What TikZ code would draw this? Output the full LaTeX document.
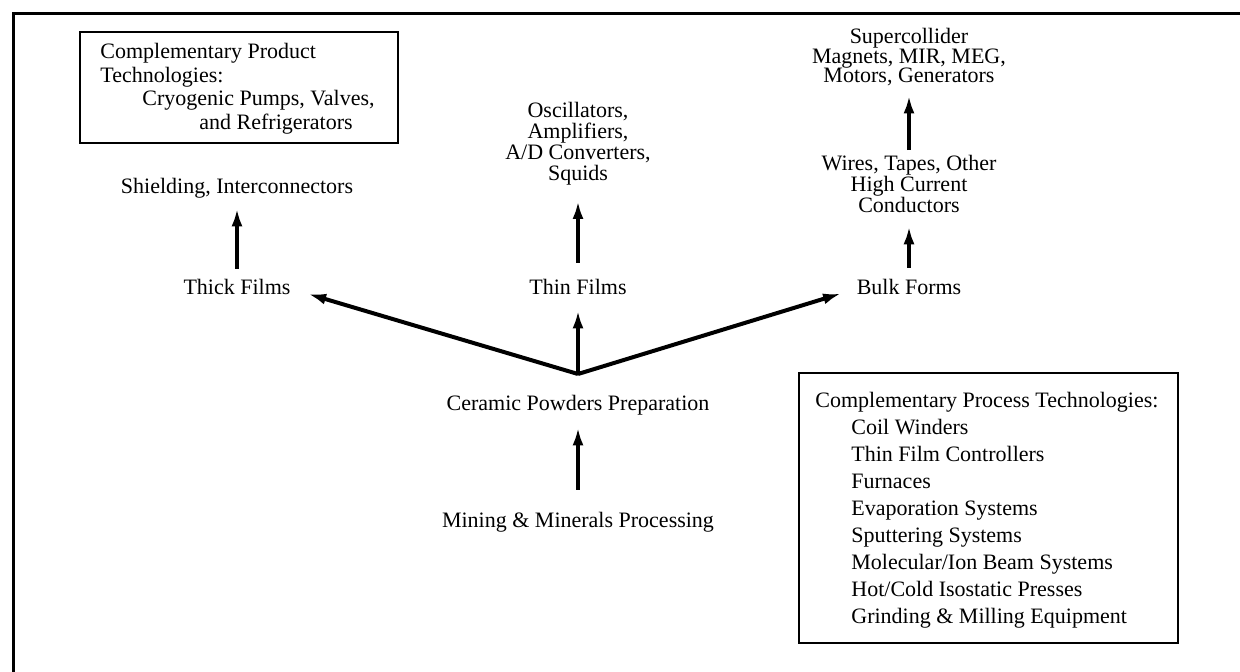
\documentclass[tikz,border=0pt]{standalone}
\usepackage{fontspec}
\setmainfont{Liberation Serif}
\usetikzlibrary{arrows.meta}
% stacked labels keep their baseline spacing even when lines are tall
\setlength{\lineskiplimit}{-20pt}
\begin{document}
\begin{tikzpicture}[x=0.5pt,y=-0.5pt,
  txt/.style={inner sep=0pt, font=\fontsize{11}{10.5}\selectfont},
  one/.style={txt, anchor=base, text height=7.6pt, text depth=2.4pt},
  multi/.style={txt, align=center, anchor=north},
  boxed/.style={draw, line width=1.3pt, inner sep=0pt},
  flow/.style={line width=2pt, -{Latex[length=9pt,width=5.5pt]}},
  frameline/.style={line width=1.5pt}]
\useasboundingbox (0,0) rectangle (1240,671);
\begin{scope}
\clip (0,0) rectangle (1240,671);
\draw[frameline] (13,700) -- (13,13) -- (1260,13);
\end{scope}

% product technologies box
\node[boxed, minimum width=159pt, minimum height=55.5pt] (prodbox) at (239,87.5) {};
\node[txt, align=left, anchor=north west, font=\fontsize{11}{11.75}\selectfont] (prodtext) at (100,43)
  {Complementary Product\\Technologies:\\\hspace*{21pt}Cryogenic Pumps, Valves,\\\hspace*{49.5pt}and Refrigerators};

% process technologies box
\node[boxed, line width=1.4pt, minimum width=189.5pt, minimum height=135pt] (procbox) at (988.5,508) {};
\node[txt, align=left, anchor=north west, font=\fontsize{11}{13.5}\selectfont] (proctext) at (815,392)
  {Complementary Process Technologies:\\
   \hspace*{18pt}Coil Winders\\
   \hspace*{18pt}Thin Film Controllers\\
   \hspace*{18pt}Furnaces\\
   \hspace*{18pt}Evaporation Systems\\
   \hspace*{18pt}Sputtering Systems\\
   \hspace*{18pt}Molecular/Ion Beam Systems\\
   \hspace*{18pt}Hot/Cold Isostatic Presses\\
   \hspace*{18pt}Grinding \& Milling Equipment};

% left column
\node[one] (shield) at (237,193) {Shielding, Interconnectors};
\node[one] (thick) at (237,294) {Thick Films};

% centre column
\node[multi] (osc) at (578,102) {Oscillators,\\Amplifiers,\\A/D Converters,\\Squids};
\node[one] (thin) at (578,294) {Thin Films};
\coordinate (hub) at (578,374);
\node[one] (ceramic) at (578,410) {Ceramic Powders Preparation};
\node[one] (mining) at (578,527) {Mining \& Minerals Processing};

% right column
\node[multi, font=\fontsize{11}{9.75}\selectfont] (super) at (909,28) {Supercollider\\Magnets, MIR, MEG,\\Motors, Generators};
\node[multi] (wires) at (909,155) {Wires, Tapes, Other\\High Current\\Conductors};
\node[one] (bulk) at (909,294) {Bulk Forms};

% connectors
\draw[flow, shorten <=10.9pt, shorten >=6.1pt] (mining) -- (ceramic);
\draw[flow, shorten >=5.6pt] (hub) -- (thin);
\draw[flow, shorten >=9pt] (hub) -- (thick.east);
\draw[flow, shorten >=8pt] (hub) -- (bulk.west);
\draw[flow, shorten <=4.8pt, shorten >=5.1pt] (thick) -- (shield);
\draw[flow, shorten <=7.9pt, shorten >=7.6pt] (thin) -- (osc);
\draw[flow, shorten <=5.4pt, shorten >=6.5pt] (bulk) -- (wires);
\draw[flow, shorten <=2.4pt, shorten >=4.5pt] (wires) -- (super);
\end{tikzpicture}
\end{document}
